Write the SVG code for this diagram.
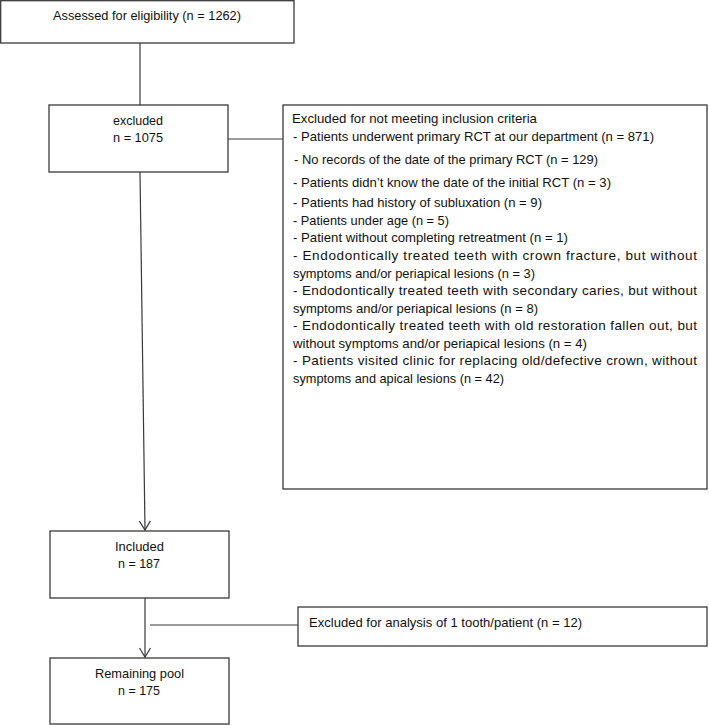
<svg xmlns="http://www.w3.org/2000/svg" width="709" height="725" viewBox="0 0 709 725">
<defs>
<style>
.box{fill:#fff;stroke:#3a3a3a;stroke-width:1.3}
.ln{fill:none;stroke:#3a3a3a;stroke-width:1.2}
text{font-family:"Liberation Sans",Arial,sans-serif;font-size:13.5px;fill:#111}
.c{text-anchor:middle}
</style>
<marker id="arr" markerUnits="userSpaceOnUse" markerWidth="14" markerHeight="14" refX="10" refY="6" orient="auto">
<path d="M1,0.5 L10,6 L1,11.5" fill="none" stroke="#3a3a3a" stroke-width="1.2"/>
</marker>
</defs>
<rect width="709" height="725" fill="#fff"/>
<g id="connectors">
<line class="ln" x1="140" y1="43" x2="140" y2="105"/>
<line class="ln" x1="228" y1="139" x2="283" y2="139"/>
<line class="ln" x1="140" y1="172" x2="145" y2="530" marker-end="url(#arr)"/>
<line class="ln" x1="145" y1="598" x2="145" y2="657" marker-end="url(#arr)"/>
<line class="ln" x1="150" y1="625" x2="298" y2="625"/>
</g>
<g id="assessed">
<rect class="box" x="0.7" y="0.7" width="293.3" height="42.3"/>
<text class="c" x="147" y="20" textLength="188" lengthAdjust="spacingAndGlyphs">Assessed for eligibility (n = 1262)</text>
</g>
<g id="excluded">
<rect class="box" x="49" y="105" width="179" height="67"/>
<text class="c" x="138" y="125" textLength="50" lengthAdjust="spacingAndGlyphs">excluded</text>
<text class="c" x="138" y="142" textLength="50" lengthAdjust="spacingAndGlyphs">n = 1075</text>
</g>
<g id="criteria">
<rect class="box" x="283" y="105" width="424" height="384"/>
<text x="292" y="123" textLength="245" lengthAdjust="spacingAndGlyphs">Excluded for not meeting inclusion criteria</text>
<text x="293" y="141" textLength="361" lengthAdjust="spacingAndGlyphs">- Patients underwent primary RCT at our department (n = 871)</text>
<text x="294" y="164" textLength="304" lengthAdjust="spacingAndGlyphs">- No records of the date of the primary RCT (n = 129)</text>
<text x="293" y="187" textLength="318" lengthAdjust="spacingAndGlyphs">- Patients didn’t know the date of the initial RCT (n = 3)</text>
<text x="293" y="206.5" textLength="249" lengthAdjust="spacingAndGlyphs">- Patients had history of subluxation (n = 9)</text>
<text x="293" y="224.5" textLength="156" lengthAdjust="spacingAndGlyphs">- Patients under age (n = 5)</text>
<text x="293" y="242" textLength="275" lengthAdjust="spacingAndGlyphs">- Patient without completing retreatment (n = 1)</text>
<text x="293" y="260" textLength="404" lengthAdjust="spacing">- Endodontically treated teeth with crown fracture, but without</text>
<text x="293" y="277.5" textLength="242" lengthAdjust="spacingAndGlyphs">symptoms and/or periapical lesions (n = 3)</text>
<text x="293" y="295" textLength="404" lengthAdjust="spacing">- Endodontically treated teeth with secondary caries, but without</text>
<text x="293" y="312.5" textLength="245" lengthAdjust="spacingAndGlyphs">symptoms and/or periapical lesions (n = 8)</text>
<text x="293" y="330" textLength="404" lengthAdjust="spacing">- Endodontically treated teeth with old restoration fallen out, but</text>
<text x="293" y="347.5" textLength="294" lengthAdjust="spacingAndGlyphs">without symptoms and/or periapical lesions (n = 4)</text>
<text x="293" y="365" textLength="404" lengthAdjust="spacing">- Patients visited clinic for replacing old/defective crown, without</text>
<text x="293" y="383" textLength="211" lengthAdjust="spacingAndGlyphs">symptoms and apical lesions (n = 42)</text>
</g>
<g id="included">
<rect class="box" x="50" y="531" width="179" height="67"/>
<text class="c" x="139.5" y="551" textLength="49" lengthAdjust="spacingAndGlyphs">Included</text>
<text class="c" x="139" y="568" textLength="42" lengthAdjust="spacingAndGlyphs">n = 187</text>
</g>
<g id="excluded-analysis">
<rect class="box" x="298" y="607" width="409" height="39"/>
<text x="309" y="627" textLength="273" lengthAdjust="spacingAndGlyphs">Excluded for analysis of 1 tooth/patient (n = 12)</text>
</g>
<g id="remaining">
<rect class="box" x="50" y="658" width="179" height="66"/>
<text class="c" x="139.5" y="677.5" textLength="89" lengthAdjust="spacingAndGlyphs">Remaining pool</text>
<text class="c" x="139" y="694.5" textLength="42" lengthAdjust="spacingAndGlyphs">n = 175</text>
</g>
</svg>
